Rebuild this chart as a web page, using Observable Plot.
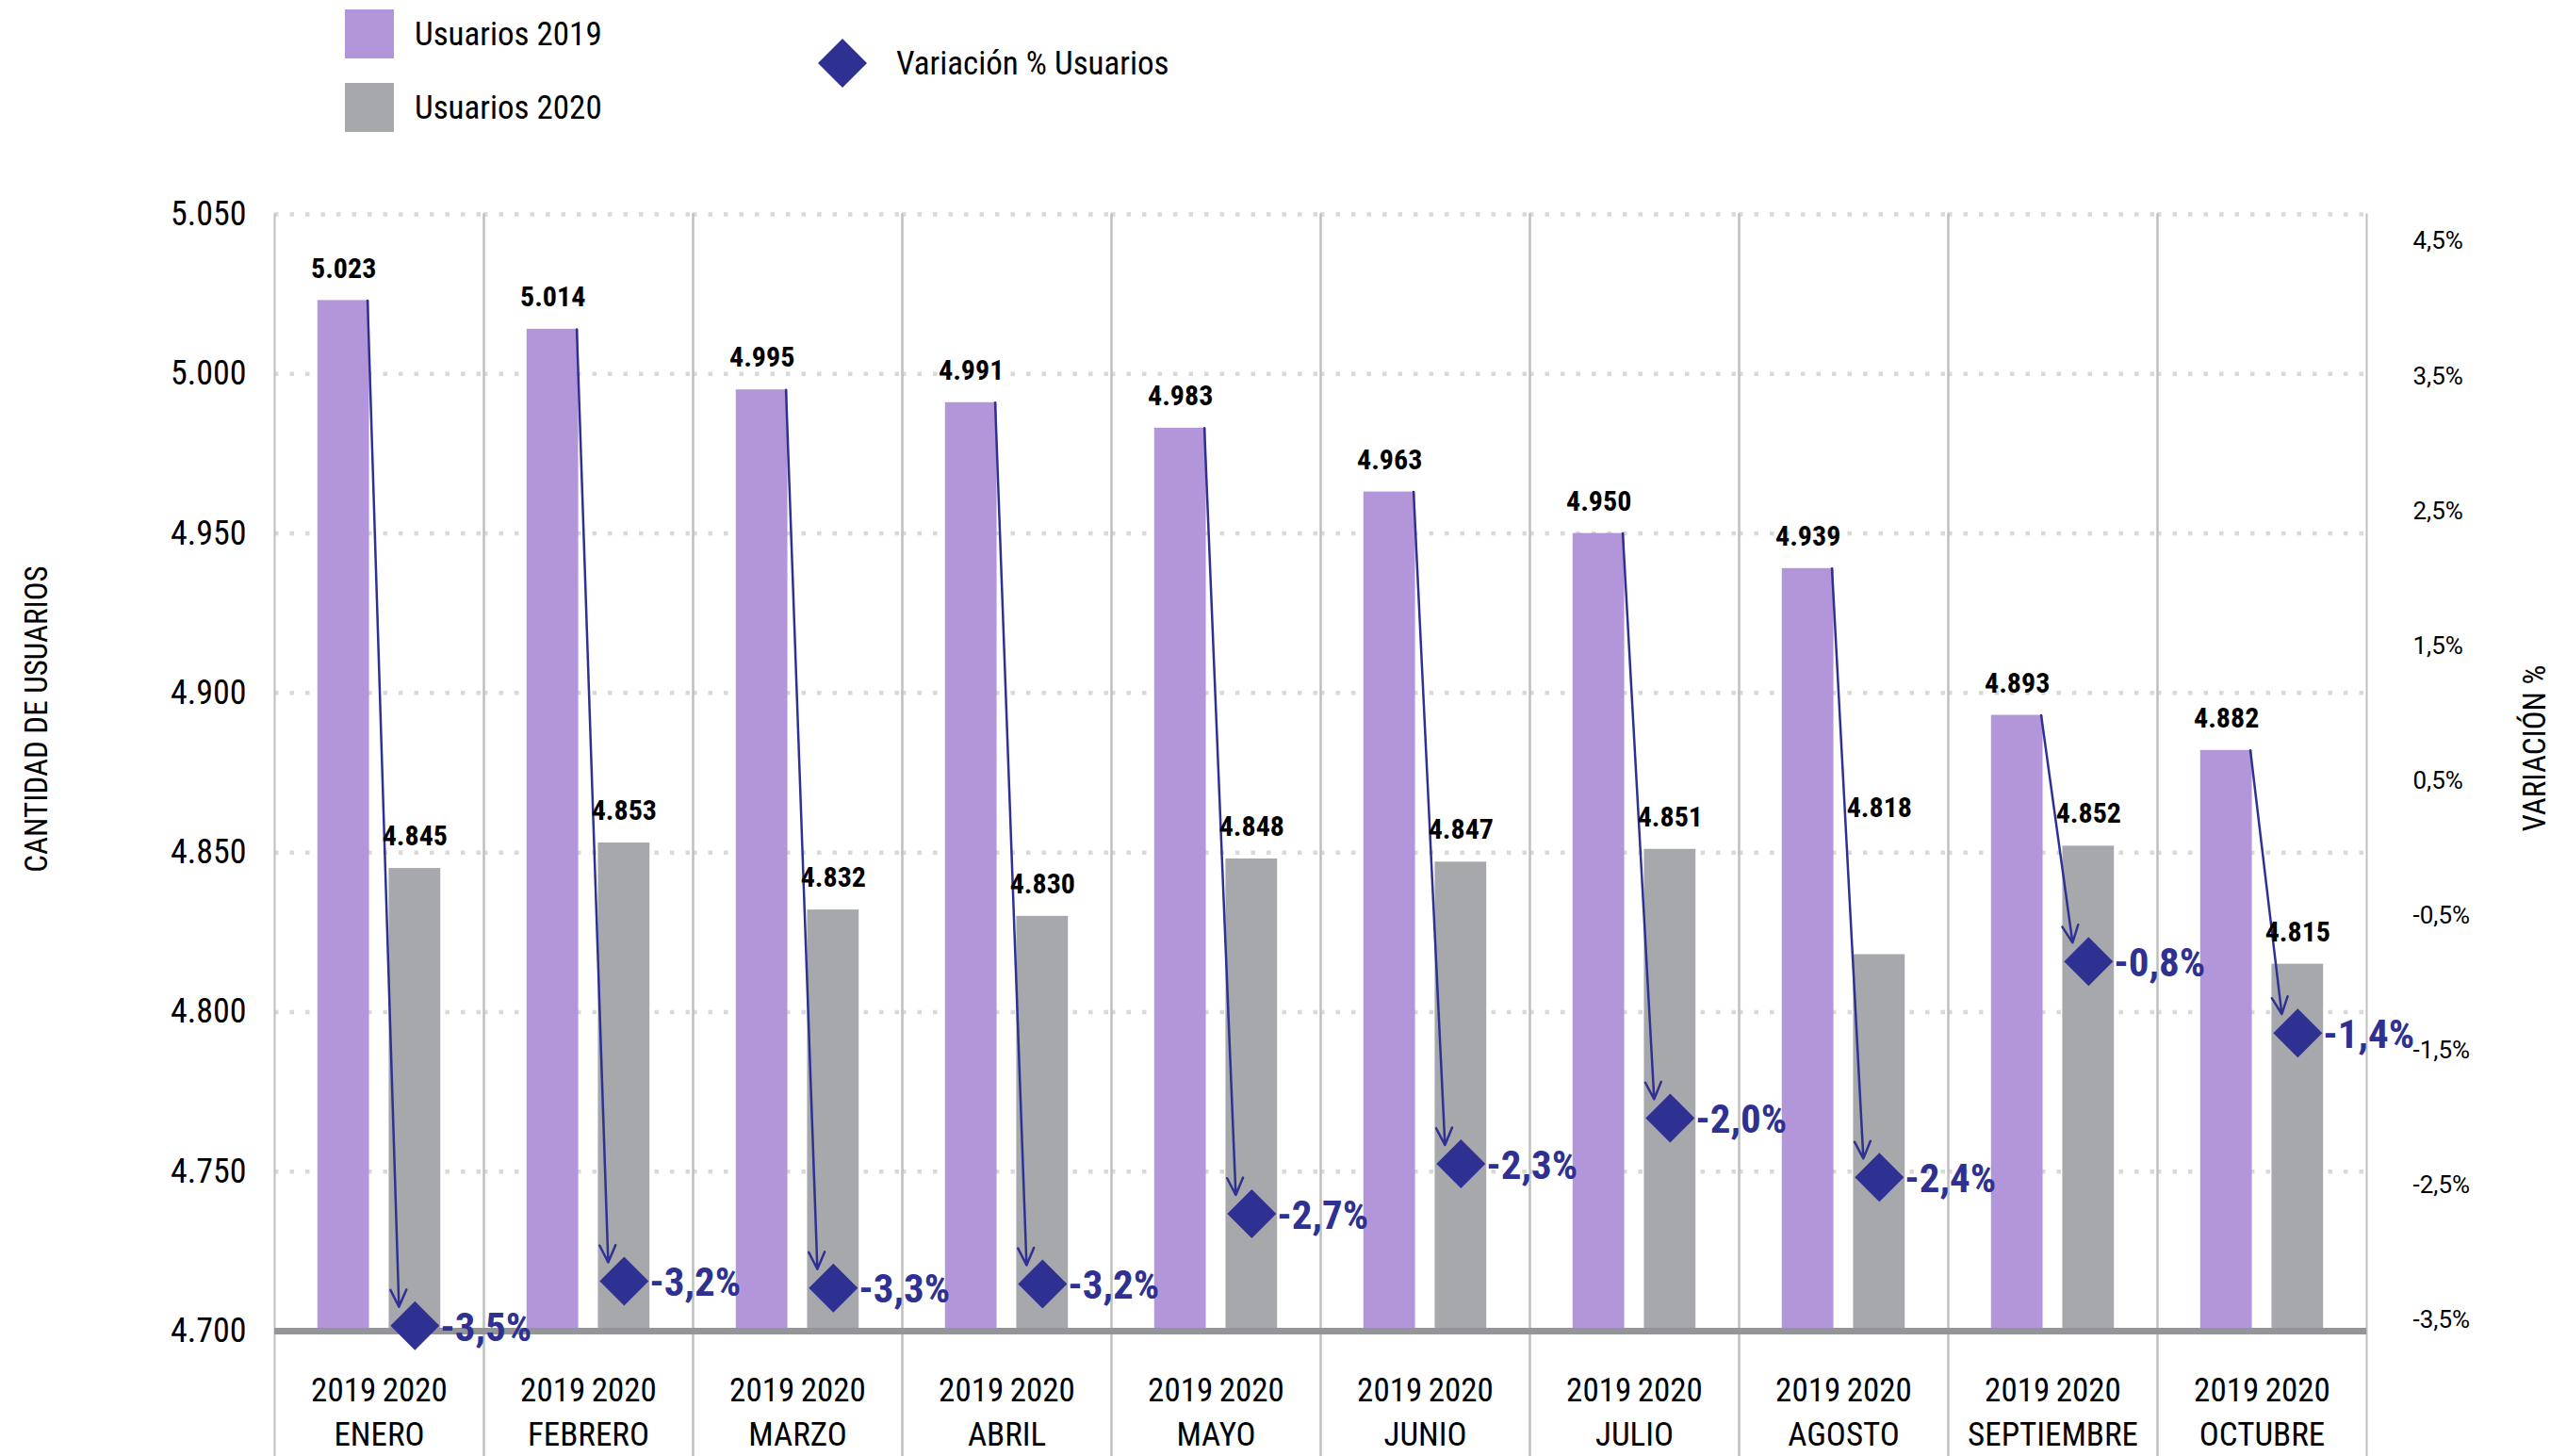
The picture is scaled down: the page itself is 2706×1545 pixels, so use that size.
<!DOCTYPE html>
<html><head><meta charset="utf-8">
<script src="https://cdn.jsdelivr.net/npm/d3@7"></script>
<script src="https://cdn.jsdelivr.net/npm/@observablehq/plot@0.6"></script>
<style>
html,body{margin:0;padding:0;background:#fff;overflow:hidden;}
#page{position:relative;width:2706px;height:1545px;font-family:"Liberation Sans Narrow","Roboto Condensed","DejaVu Sans Condensed","Arial Narrow",sans-serif;color:#000;}
#legend{position:relative;height:130px;}
.sw{position:absolute;width:52px;height:52px;}
.lt{position:absolute;font-size:35px;line-height:1;transform:translateY(-50%);white-space:nowrap;}
.title{position:absolute;font-size:33px;line-height:1;white-space:nowrap;transform:translate(-50%,-50%) rotate(-90deg);}
#chart svg{display:block;overflow:visible;}
</style></head>
<body><div id="page">
<div id="legend">
 <div class="sw" style="left:366px;top:10px;background:#B395DA"></div>
 <div class="lt" style="left:440px;top:36px">Usuarios 2019</div>
 <div class="sw" style="left:366px;top:88px;background:#A7A8AB"></div>
 <div class="lt" style="left:440px;top:114px">Usuarios 2020</div>
 <svg style="position:absolute;left:868px;top:41px" width="52" height="52"><path d="M26,0L52,26L26,52L0,26Z" fill="#2E3192"/></svg>
 <div class="lt" style="left:951px;top:67px">Variación % Usuarios</div>
</div>
<div id="chart"></div>
<div class="title" style="left:38px;top:763px">CANTIDAD DE USUARIOS</div>
<div class="title" style="left:2689px;top:794px">VARIACIÓN %</div>
</div>
<script>
const months = ["ENERO","FEBRERO","MARZO","ABRIL","MAYO","JUNIO","JULIO","AGOSTO","SEPTIEMBRE","OCTUBRE"];
const years = ["2019","2020"];
const usuarios2019 = [5023,5014,4995,4991,4983,4963,4950,4939,4893,4882];
const usuarios2020 = [4845,4853,4832,4830,4848,4847,4851,4818,4852,4815];
const variacion = [-3.54,-3.21,-3.26,-3.23,-2.71,-2.34,-2.00,-2.44,-0.84,-1.37];
const yTicks = [4700,4750,4800,4850,4900,4950,5000,5050];
const pctTicks = [-3.5,-2.5,-1.5,-0.5,0.5,1.5,2.5,3.5,4.5];
const yDomain = [4700, 5050];
const pctDomain = [-3.58, 4.70];

const COND = '"Liberation Sans Narrow","Roboto Condensed","DejaVu Sans Condensed","Arial Narrow",sans-serif';
const BLUE = "#2E3192";
const colors = {"2019": "#B395DA", "2020": "#A7A8AB"};

const rows = months.flatMap((m, i) => [
  {month: m, year: "2019", value: usuarios2019[i]},
  {month: m, year: "2020", value: usuarios2020[i]}
]);
const varRows = months.map((m, i) => ({month: m, pct: variacion[i], from: usuarios2019[i]}));

const pctToY = d3.scaleLinear(pctDomain, yDomain);

const band = d3.scaleBand(years, [0, 1]).paddingInner(0.276).paddingOuter(0.605);
const bw = band.bandwidth();
const mid = y => band(y) + bw / 2;

const W = 2706, H = 1415, mL = 288, mR = 193, mT = 97, mB = 133;
const facetW = (W - mL - mR) / months.length;
const pxX = 1 / facetW;
const pxY = (yDomain[1] - yDomain[0]) / (H - mT - mB);

const fmtN = v => d3.format(",")(v).replace(/,/g, ".");
const fmtP = p => (Math.round(p * 10) / 10).toFixed(1).replace(".", ",") + "%";

const diamond = {draw(ctx, size) {
  const h = Math.sqrt(size / Math.PI);
  ctx.moveTo(0, -h); ctx.lineTo(h, 0); ctx.lineTo(0, h); ctx.lineTo(-h, 0); ctx.closePath();
}};

const isAgo20 = d => d.month === "AGOSTO" && d.year === "2020";

const chart = Plot.plot({
  width: W, height: H,
  marginLeft: mL, marginRight: mR, marginTop: mT, marginBottom: mB,
  style: {fontFamily: COND, fontSize: "35px", background: "transparent", color: "#000"},
  fx: {domain: months, padding: 0, axis: null, label: null},
  x: {type: "linear", domain: [0, 1], axis: null},
  y: {domain: yDomain, axis: null},
  marks: [
    Plot.gridY(yTicks.filter(t => t > yDomain[0]), {stroke: "#D9D9D9", strokeOpacity: 1, strokeWidth: 4.5, strokeDasharray: "4.5,12"}),
    Plot.frame({anchor: "left", stroke: "#BFBFBF", strokeWidth: 2, insetBottom: -mB}),
    Plot.frame({anchor: "right", stroke: "#BFBFBF", strokeWidth: 2, insetBottom: -mB}),
    Plot.rect(rows, {fx: "month", x1: d => band(d.year), x2: d => band(d.year) + bw, y1: () => yDomain[0], y2: "value", fill: d => colors[d.year]}),
    Plot.ruleY([yDomain[0]], {stroke: "#939598", strokeWidth: 7}),
    Plot.arrow(varRows, {
      fx: "month",
      x1: () => band("2019") + bw - 2 * pxX, y1: "from",
      x2: () => mid("2020") - 17 * pxX, y2: d => pctToY(d.pct) + 20 * pxY,
      stroke: BLUE, strokeWidth: 2.5, headLength: 12, headAngle: 50
    }),
    Plot.dot(varRows, {fx: "month", x: () => mid("2020"), y: d => pctToY(d.pct), symbol: diamond, r: 26, fill: BLUE, stroke: null}),
    Plot.text(varRows, {fx: "month", x: () => mid("2020"), y: d => pctToY(d.pct), text: d => fmtP(d.pct), dx: 27, dy: 2, textAnchor: "start", lineAnchor: "middle", fontSize: 43, fontWeight: "bold", fill: BLUE}),
    Plot.text(rows.filter(d => !isAgo20(d)), {fx: "month", x: d => mid(d.year), y: "value", text: d => fmtN(d.value), dy: -34, lineAnchor: "middle", fontSize: 30, fontWeight: "bold", fill: "#000"}),
    Plot.text(rows.filter(isAgo20), {fx: "month", x: d => mid(d.year), y: "value", text: d => fmtN(d.value), dy: -156, lineAnchor: "middle", fontSize: 30, fontWeight: "bold", fill: "#000"}),
    Plot.axisY(yTicks, {anchor: "left", tickSize: 0, tickPadding: 30, tickFormat: fmtN, fontSize: 36, label: null}),
    Plot.axisY(pctTicks.map(p => pctToY(p)), {anchor: "right", tickSize: 0, tickPadding: 49, tickFormat: d => fmtP(pctToY.invert(d)), fontSize: 26, fontFamily: "Roboto", label: null}),
    Plot.text(years, {x: mid, frameAnchor: "bottom", dy: 63, text: d => d, lineAnchor: "middle", fontSize: 35, fill: "#000"}),
    Plot.text(months, {fx: d => d, frameAnchor: "bottom", dy: 110, text: d => d, lineAnchor: "middle", fontSize: 35, fill: "#000"})
  ]
});
document.getElementById("chart").appendChild(chart);
</script>
</body></html>
